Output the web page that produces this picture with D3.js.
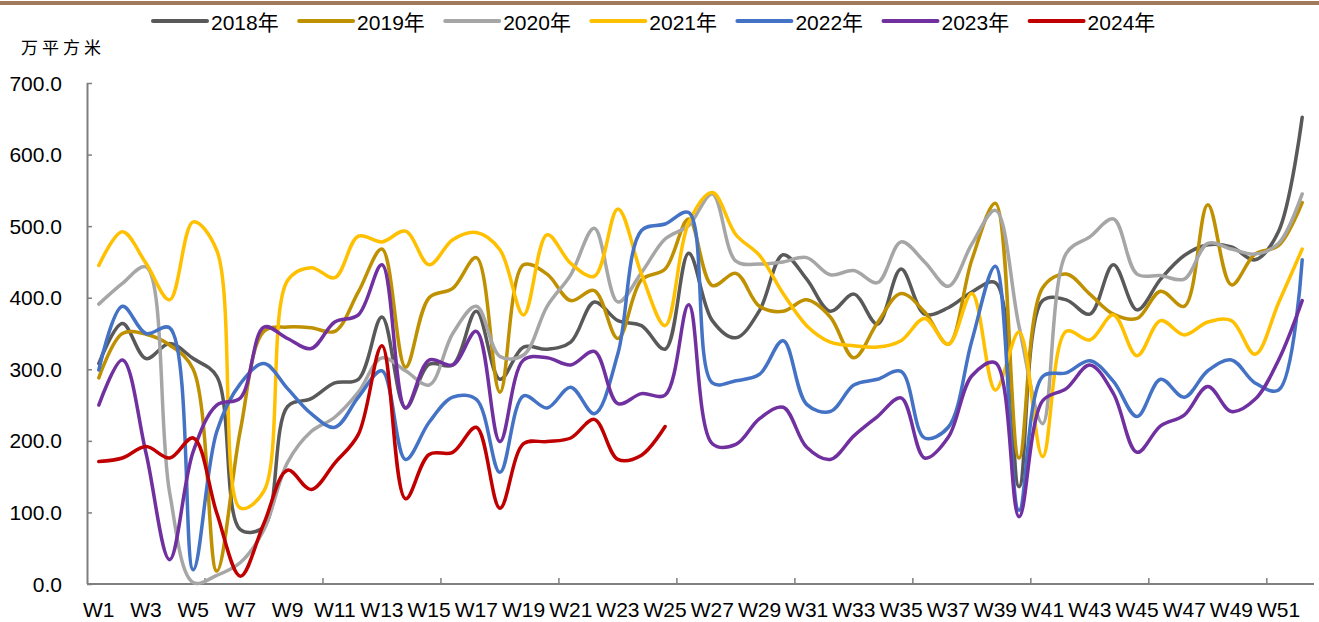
<!DOCTYPE html>
<html>
<head>
<meta charset="utf-8">
<script src="https://cdn.jsdelivr.net/npm/d3@7"></script>
<style>
  html, body { margin: 0; padding: 0; background: #ffffff; }
  svg { display: block; }
</style>
</head>
<body>
<svg id="chart" width="1319" height="622"></svg>
<script>
// ---------------- data ----------------
const weeks = d3.range(1, 53).map(i => "W" + i);
const seriesNames = ["2018年", "2019年", "2020年", "2021年", "2022年", "2023年", "2024年"];
const seriesColors = ["#595959", "#BF9000", "#A6A6A6", "#FFC000", "#4472C4", "#7030A0", "#C00000"];
const yTicks = [0, 100, 200, 300, 400, 500, 600, 700];
const unitLabel = "万平方米";

const s2018 = [308, 364, 315, 336, 315, 290, 76, 80, 248, 259, 281, 286, 373, 246, 307, 306, 381, 286, 331, 328,
  338, 394, 368, 361, 328, 462, 368, 344, 382, 460, 426, 381, 405, 363, 440, 377, 386, 408, 421, 136,
  396, 397, 377, 446, 383, 426, 459, 474, 471, 453, 493, 652];
const s2019 = [288, 350, 349, 334, 300, 18, 215, 353, 359, 358, 353, 408, 468, 303, 400, 413, 456, 268, 446, 433,
  396, 410, 343, 425, 440, 510, 417, 434, 388, 381, 397, 373, 316, 365, 406, 380, 335, 453, 532, 176,
  414, 433, 405, 377, 371, 409, 388, 530, 418, 461, 473, 533];
const s2020 = [391, 420, 443, 128, 2, 12, 30, 76, 170, 213, 233, 268, 316, 298, 278, 350, 388, 318, 320, 388,
  432, 497, 394, 435, 482, 501, 545, 451, 447, 450, 456, 432, 438, 421, 478, 450, 416, 475, 522, 360,
  224, 462, 485, 510, 433, 431, 426, 476, 468, 461, 476, 545];
const s2021 = [445, 492, 448, 397, 506, 466, 106, 130, 424, 442, 428, 486, 478, 493, 446, 481, 491, 467, 376, 488,
  448, 430, 524, 433, 361, 505, 547, 488, 459, 406, 361, 338, 333, 331, 340, 371, 335, 406, 271, 352,
  178, 353, 341, 376, 319, 368, 348, 366, 368, 321, 393, 468];
const s2022 = [299, 388, 350, 358, 20, 213, 280, 308, 273, 238, 219, 261, 298, 174, 226, 261, 258, 156, 263, 246,
  275, 238, 322, 494, 503, 519, 281, 284, 293, 340, 251, 241, 278, 286, 297, 204, 219, 340, 444, 103,
  290, 295, 312, 283, 234, 286, 261, 298, 313, 281, 271, 453];
const s2023 = [250, 313, 183, 34, 185, 250, 260, 359, 343, 329, 366, 376, 446, 246, 313, 306, 353, 199, 313, 316,
  306, 325, 252, 266, 264, 390, 196, 195, 231, 247, 191, 174, 207, 234, 260, 176, 205, 291, 309, 94,
  256, 273, 306, 266, 184, 221, 236, 276, 241, 258, 313, 396];
const s2024 = [171, 176, 192, 176, 204, 99, 11, 85, 159, 132, 169, 209, 333, 119, 181, 184, 219, 106, 196, 199,
  204, 230, 174, 180, 220];

const allSeries = [s2018, s2019, s2020, s2021, s2022, s2023, s2024];

// ---------------- layout ----------------
const svg = d3.select("#chart");
const W = 1319, H = 622;
const plot = { left: 87, right: 1314, top: 83, bottom: 584 };
const FONT = "'Liberation Sans', Arial, 'Noto Sans CJK SC', sans-serif";
const AXIS_COLOR = "#7f7f7f";

const x = d3.scaleBand().domain(weeks).range([plot.left, plot.right]).padding(0);
const y = d3.scaleLinear().domain([0, 700]).range([plot.bottom, plot.top]);
const cx = w => x(w) + x.bandwidth() / 2;

// top brown rule
svg.append("rect").attr("x", 0).attr("y", 1).attr("width", W).attr("height", 4).attr("fill", "#A27B5C");

// unit label
svg.append("text")
  .attr("x", 21).attr("y", 54)
  .attr("font-family", "'Noto Sans CJK SC', sans-serif")
  .attr("font-size", 17)
  .attr("letter-spacing", "4px")
  .attr("fill", "#000")
  .text(unitLabel);

// legend
const legend = svg.append("g");
seriesNames.forEach((name, i) => {
  const x0 = 153 + i * 146.1;
  legend.append("line")
    .attr("x1", x0).attr("x2", x0 + 54).attr("y1", 21).attr("y2", 21)
    .attr("stroke", seriesColors[i]).attr("stroke-width", 4).attr("stroke-linecap", "round");
  legend.append("text")
    .attr("x", x0 + 58).attr("y", 29.5)
    .attr("font-family", FONT).attr("font-size", 21).attr("fill", "#000")
    .text(name);
});

// y axis
const yAxis = d3.axisRight(y).tickValues(yTicks).tickSize(5).tickFormat("");
const gy = svg.append("g").attr("transform", `translate(${plot.left},0)`).call(yAxis);
gy.select(".domain").attr("stroke", AXIS_COLOR).attr("stroke-width", 2).attr("d", `M0.5,${plot.top}V${plot.bottom}`);
gy.selectAll(".tick line").attr("stroke", AXIS_COLOR).attr("stroke-width", 1.5);

svg.append("g").selectAll("text").data(yTicks).join("text")
  .attr("x", 62).attr("y", d => y(d))
  .attr("dy", "0.36em")
  .attr("text-anchor", "end")
  .attr("font-family", FONT).attr("font-size", 21).attr("fill", "#000")
  .text(d3.format(".1f"));

// x axis
const boundaryTicks = d3.range(5, 52, 5).map(k => weeks[k]);
const xAxis = d3.axisTop(x).tickValues(boundaryTicks).tickSize(6).tickFormat("").offset(0);
const gx = svg.append("g").attr("transform", `translate(0,${plot.bottom})`).call(xAxis);
gx.selectAll(".tick").attr("transform", d => `translate(${x(d)},0)`);
gx.select(".domain").attr("stroke", AXIS_COLOR).attr("stroke-width", 2).attr("d", `M${plot.left},0H${plot.right}`);
gx.selectAll(".tick line").attr("stroke", AXIS_COLOR).attr("stroke-width", 1.5);

const xLabels = weeks.filter((w, i) => i % 2 === 0);
svg.append("g").selectAll("text").data(xLabels).join("text")
  .attr("x", d => cx(d)).attr("y", 617)
  .attr("text-anchor", "middle")
  .attr("font-family", FONT).attr("font-size", 21).attr("fill", "#000")
  .text(d => d);

// series lines (smoothed, centripetal Catmull-Rom)
const line = d3.line()
  .x((d, i) => cx(weeks[i]))
  .y(d => y(d))
  .curve(d3.curveCatmullRom.alpha(0.5));

const gl = svg.append("g");
allSeries.forEach((vals, i) => {
  gl.append("path")
    .attr("d", line(vals))
    .attr("fill", "none")
    .attr("stroke", seriesColors[i])
    .attr("stroke-width", 3.5)
    .attr("stroke-linejoin", "round")
    .attr("stroke-linecap", "round");
});
</script>
</body>
</html>
